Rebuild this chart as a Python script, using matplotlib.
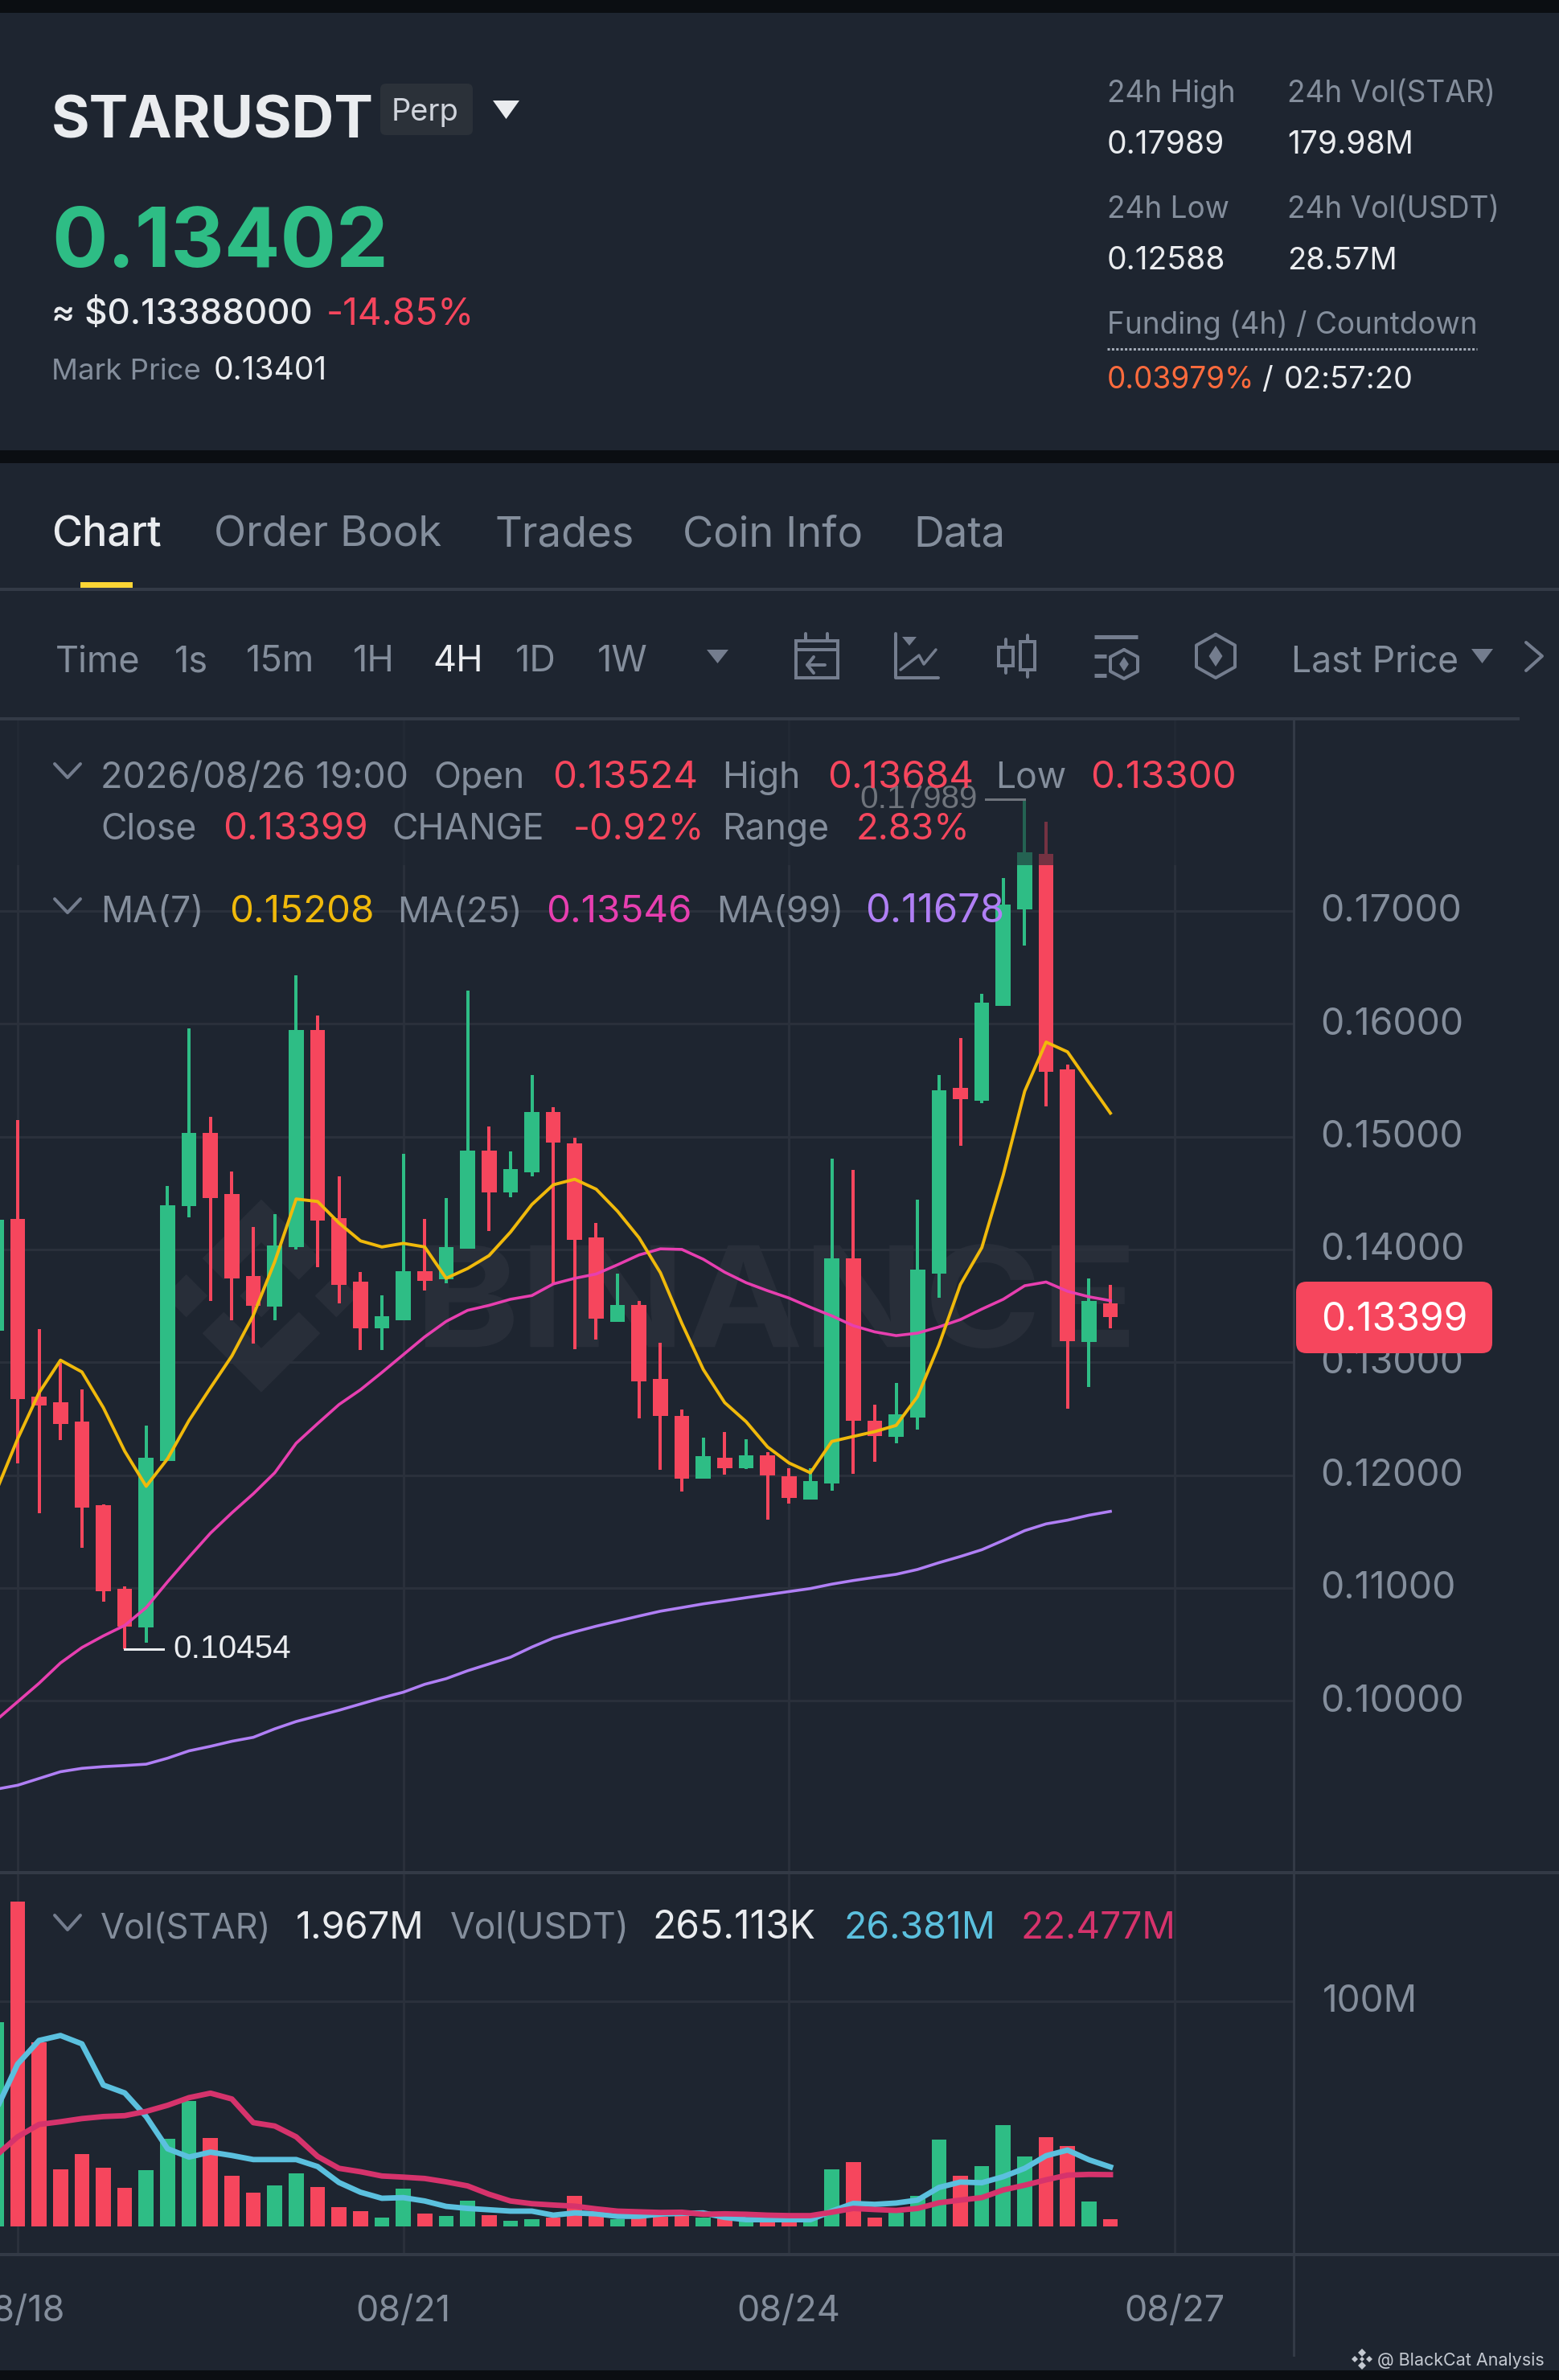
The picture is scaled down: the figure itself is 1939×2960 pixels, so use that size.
import numpy as np
import matplotlib
matplotlib.use("Agg")
import matplotlib.pyplot as plt
from matplotlib.patches import FancyBboxPatch, PathPatch, Polygon, Rectangle
from matplotlib.textpath import TextPath
from matplotlib.font_manager import FontProperties
from matplotlib.transforms import Affine2D, ScaledTranslation

plt.rcParams['font.family'] = ['Inter', 'DejaVu Sans']

# candles, first one is cut by the left edge
opens = [.1328, .14267, .12696, .12642, .12473, .11731, .10989, .10651, .12124, .14382, .15031,
         .14491, .13765, .13493, .14022, .15942, .14278, .13716, .13302, .13373, .13804,
         .13733, .14005, .14878, .14507, .14687, .15216, .14943, .14104, .13356, .13504,
         .12849, .12522, .11971, .12151, .12064, .12178, .11987, .11785, .11922, .13924,
         .12484, .12336, .12511, .13782, .15429, .1532, .1616, .17016, .17507, .15598,
         .13182, .13524]
closes = [.1426, .12674, .12614, .12451, .11709, .10973, .10656, .12156, .14393, .15036, .14458,
          .13744, .13498, .14038, .15942, .14256, .13689, .13302, .13405, .13804, .13722,
          .14022, .14878, .14507, .14715, .15216, .14944, .14082, .13389, .13509, .12827,
          .12527, .11971, .12167, .12064, .12178, .11998, .11796, .11944, .13924, .12478,
          .12347, .12538, .1382, .15407, .15331, .16187, .17055, .17518, .15576, .13187,
          .13542, .13399]
highs = [.1450, .15145, .13291, .12991, .12762, .11742, .11016, .1244, .14562, .15958, .15173,
         .14693, .14196, .14316, .16427, .16073, .14649, .13798, .13591, .14851, .14273,
         .14458, .16291, .15091, .14867, .15549, .1526, .14987, .14234, .13787, .13542,
         .13176, .12582, .12331, .1238, .12315, .12205, .12058, .12064, .14807, .14704,
         .12625, .12816, .14442, .15549, .15876, .16269, .1729, .17989, .1779, .15636,
         .13744, .13684]
lows = [.1300, .12102, .11665, .12309, .11354, .10874, .10454, .10515, .12124, .14284, .13542,
        .13373, .13165, .13373, .14, .13842, .13525, .13105, .13111, .13373, .13635,
        .137, .14005, .14164, .14464, .14649, .137, .13116, .13198, .13356, .12505,
        .12047, .11856, .11971, .12004, .12053, .11605, .11747, .11785, .11862, .12009,
        .12118, .12282, .12402, .13575, .14922, .15298, .1616, .16695, .15271, .12588,
        .12784, .133]
ma7 = [.11856, .1232, .12729, .13018, .12914, .12598, .12211, .119, .12145, .12484, .12773,
       .13056, .13416, .13891, .14447, .14425, .14234, .14076, .14022, .14054, .14022,
       .13744, .13831, .13945, .14153, .14398, .14573, .14622, .14534, .14338, .14104,
       .13793, .13345, .12936, .12642, .12473, .12249, .12107, .1202, .12298, .12342,
       .12385, .1244, .12696, .13154, .13689, .14016, .1466, .15402, .15838, .15751,
       .15478, .15208]
ma25 = [.09827, .0999, .10154, .10334, .10471, .10574, .10667, .10825, .11054, .11273, .11485,
        .11665, .11834, .1202, .12282, .12456, .12625, .12756, .12909, .13067, .13225,
        .13362, .1346, .13504, .13558, .13591, .13694, .13744, .13782, .13864, .13951,
        .14005, .14, .13913, .13798, .13705, .13634, .13569, .13487, .13411, .13324,
        .13269, .13236, .13258, .13313, .13378, .13471, .13558, .13678, .13711, .13629,
        .1358, .13546]
ma99 = [.09215, .0925, .0931, .0937, .094, .09415, .09425, .09437, .0949, .09555, .09595,
        .0964, .09675, .0975, .09815, .09865, .09915, .0997, .10025, .10075, .10145,
        .10195, .10265, .10325, .10385, .10475, .10555, .1061, .1066, .10705, .1075,
        .10793, .10825, .10858, .10885, .10913, .1094, .10967, .10994, .11033, .11065,
        .11093, .1112, .11163, .11223, .11278, .11338, .1142, .11507, .11567, .116,
        .11644, .11678]
volumes = [90.8, 144.4, 81.8, 25.2, 32.0, 26.1, 17.1, 25.1, 39.0, 55.6, 39.3,
           22.4, 15.0, 18.3, 23.7, 17.6, 8.7, 6.9, 3.8, 16.8, 5.7,
           4.7, 11.6, 5.0, 2.6, 3.3, 3.8, 13.5, 5.3, 3.3, 4.5,
           4.2, 5.0, 4.0, 3.8, 3.0, 3.8, 3.8, 3.8, 25.2, 28.4,
           4.0, 6.0, 13.4, 38.6, 22.5, 26.7, 45.0, 31.1, 39.6, 35.7,
           11.1, 3.3]
vol_ma_fast = [51.8, 72.1, 82.6, 84.8, 81.1, 62.8, 59.3, 48.8, 34.5, 30.8, 33.0,
               31.5, 29.7, 29.7, 29.7, 26.6, 19.5, 15.2, 12.5, 12.8, 11.3,
               8.9, 8.0, 7.4, 6.8, 6.8, 5.0, 6.0, 5.6, 4.5, 4.5,
               5.5, 5.8, 6.0, 4.0, 3.0, 3.0, 3.0, 3.0, 6.8, 10.2,
               9.8, 10.4, 11.7, 17.3, 19.7, 19.4, 22.1, 25.8, 31.4, 33.9,
               29.6, 26.4]
vol_ma_slow = [31.5, 39.8, 45.3, 46.5, 47.9, 48.8, 49.2, 51.1, 53.8, 57.2, 59.2,
               56.6, 46.1, 44.6, 39.8, 31.1, 25.8, 24.3, 22.4, 21.9, 21.3,
               19.8, 18.0, 14.3, 11.3, 10.1, 9.5, 9.0, 7.8, 6.8, 6.5,
               6.2, 6.3, 5.4, 5.6, 5.4, 5.0, 4.8, 4.8, 6.3, 8.0,
               7.5, 7.1, 8.0, 10.5, 11.7, 12.8, 16.2, 18.3, 20.7, 22.8,
               23.1, 23.0]
idx = np.arange(-1, 52)
price_ticks = [.10, .11, .12, .13, .14, .15, .16, .17]
date_idx = [0, 18, 36, 54]
date_labels = ['08/18', '08/21', '08/24', '08/27']

BG = '#1e2530'
DARK = '#0b0e12'
GREEN = '#2ebd85'
RED = '#f6465d'
GRAY = '#848e9c'
WHITE = '#eaecef'
GRID = '#2a303b'
LINE = '#333a46'
ICON = '#747d8e'
YELLOW = '#f0b90b'
PINK = '#e73fb0'
PURPLE = '#b07ff5'
BLUE = '#5bc0de'
CRIMSON = '#d6336c'

W, H = 1940, 2960
fig = plt.figure(figsize=(W / 100, H / 100), dpi=100, facecolor=DARK)


def pt(px):
    return px * 0.72


def px_axes(y0, y1, x0=0, x1=W):
    return [x0 / W, 1 - y1 / H, (x1 - x0) / W, (y1 - y0) / H]


# background layer in pixels
bg = fig.add_axes([0, 0, 1, 1], zorder=0)
bg.set_xlim(0, W)
bg.set_ylim(H, 0)
bg.axis('off')
bg.add_patch(Rectangle((0, 16), W, 544, color=BG, lw=0))
bg.add_patch(Rectangle((0, 576), W, 2372, color=BG, lw=0))

# watermark, stretched to the box it has in the reference
wm = '#282e39'
for poly in ([(375, 35), (595, 255), (515, 335), (375, 195), (235, 335), (155, 255)],
             [(375, 755), (595, 535), (515, 455), (375, 590), (235, 455), (155, 535)],
             [(375, 315), (455, 395), (375, 475), (295, 395)],
             [(95, 315), (175, 395), (95, 475), (15, 395)],
             [(655, 315), (735, 395), (655, 475), (575, 395)]):
    bg.add_patch(Polygon([(200 + x / 3, 1480 + y / 3) for x, y in poly], color=wm, lw=0))
wm_path = TextPath((0, 0), 'BINANCE', size=100, prop=FontProperties(family='Inter', weight='bold'))
box = wm_path.get_extents()
to_px = (Affine2D().translate(-box.x0, -box.y0)
         .scale((1404 - 529) / box.width, -(1677 - 1547) / box.height).translate(529, 1677))
bg.add_patch(PathPatch(wm_path, transform=to_px + bg.transData, color=wm, lw=0))

xlim = (-21.9 / 26.65, (1609 - 21.9) / 26.65)
tick_up = ScaledTranslation(0, 3.5 / 100, fig.dpi_scale_trans)

# price panel
ax = fig.add_axes(px_axes(895, 2329, 0, 1609), zorder=1, facecolor='none')
ax.set_xlim(*xlim)
ax.set_ylim(.17 - (2329 - 1133) / 14030, .17 + (1133 - 895) / 14030)
for s in ax.spines.values():
    s.set_visible(False)
ax.set_xticks(date_idx)
ax.tick_params(axis='x', length=0, labelbottom=False)
ax.yaxis.tick_right()
ax.set_yticks(price_ticks)
ax.set_yticklabels([f'{p:.5f}' for p in price_ticks])
ax.tick_params(axis='y', length=0, pad=pt(33), labelsize=pt(46.5), labelcolor=GRAY)
for lab in ax.get_yticklabels():
    lab.set_transform(lab.get_transform() + tick_up)
ax.grid(True, color=GRID, lw=pt(3))
ax.set_axisbelow(True)

colors = [GREEN if c >= o else RED for o, c in zip(opens, closes)]
ax.vlines(idx, lows, highs, colors=colors, lw=pt(4), zorder=2)
ax.bar(idx, np.abs(np.array(closes) - np.array(opens)), bottom=np.minimum(opens, closes),
       width=0.7, color=colors, lw=0, zorder=2.1)
ax.plot(idx, ma99, color=PURPLE, lw=pt(3.6), zorder=3)
ax.plot(idx, ma25, color=PINK, lw=pt(3.6), zorder=3)
ax.plot(idx, ma7, color=YELLOW, lw=pt(3.9), zorder=3)

# highest / lowest markers
hi_i = int(np.argmax(highs))
lo_i = int(np.argmin(lows))
ax.plot([idx[hi_i] - 1.8, idx[hi_i]], [highs[hi_i]] * 2, color=WHITE, lw=pt(3), zorder=4)
ax.text(idx[hi_i] - 2.2, highs[hi_i], f'{highs[hi_i]:.5f}', color=WHITE, ha='right', va='center',
        fontsize=pt(40.5), family='Liberation Sans', zorder=4)
ax.plot([idx[lo_i], idx[lo_i] + 1.8], [lows[lo_i]] * 2, color=WHITE, lw=pt(3), zorder=4)
ax.text(idx[lo_i] + 2.25, lows[lo_i], f'{lows[lo_i]:.5f}', color=WHITE, ha='left', va='center',
        fontsize=pt(40.5), family='Liberation Sans', zorder=4)

# volume panel
vax = fig.add_axes(px_axes(2329, 2804, 0, 1609), zorder=1, facecolor='none')
vax.set_xlim(*xlim)
vax.set_ylim((2769 - 2804) / 2.8, (2769 - 2329) / 2.8)
for s in vax.spines.values():
    s.set_visible(False)
vax.yaxis.tick_right()
vax.set_yticks([100])
vax.set_yticklabels(['100M'])
vax.tick_params(axis='y', length=0, pad=pt(36), labelsize=pt(46), labelcolor=GRAY)
for lab in vax.get_yticklabels():
    lab.set_transform(lab.get_transform() + tick_up)
vax.set_xticks(date_idx)
vax.set_xticklabels(date_labels)
vax.tick_params(axis='x', length=0, pad=pt(50), labelsize=pt(45), labelcolor=GRAY)
vax.grid(True, color=GRID, lw=pt(3))
vax.set_axisbelow(True)
vax.bar(idx, volumes, width=0.7, color=colors, lw=0, zorder=2)
vax.plot(idx, vol_ma_fast, color=BLUE, lw=pt(6.8), zorder=3)
vax.plot(idx, vol_ma_slow, color=CRIMSON, lw=pt(6.8), zorder=3)

# top layer in pixels: header, tabs, toolbar, legends
top = fig.add_axes([0, 0, 1, 1], zorder=3, facecolor='none')
top.set_xlim(0, W)
top.set_ylim(H, 0)
top.axis('off')


def txt(x, y, s, color=GRAY, size=46, **kw):
    top.text(x, y, s, color=color, fontsize=pt(size), va='baseline', **kw)


def hline(x0, x1, y, color=LINE, w=4):
    top.plot([x0, x1], [y, y], color=color, lw=pt(w), solid_capstyle='butt')


def stroke(pts, color=ICON, w=4):
    xs, ys = zip(*pts)
    top.plot(xs, ys, color=color, lw=pt(w), solid_capstyle='round', solid_joinstyle='round')


def tri(x0, x1, y0, y1, color):
    top.add_patch(Polygon([(x0, y0), (x1, y0), ((x0 + x1) / 2, y1)], color=color, lw=0))


# dims what is under the first legend rows
top.add_patch(Rectangle((0, 896), 1606, 180, color=BG, alpha=0.6, lw=0))

hline(0, W, 2329)
hline(0, W, 2804)
hline(0, 1890, 894)
top.plot([1609, 1609], [896, 2929], color=LINE, lw=pt(3))

# header
txt(64, 171, 'STARUSDT', WHITE, 73, fontweight='bold')
top.add_patch(FancyBboxPatch((480, 111), 101, 50, boxstyle='round,pad=7,rounding_size=7', color='#2b3139', lw=0))
txt(529, 150, 'Perp', '#d0d4dc', 38, ha='center')
tri(613, 646, 125, 148, WHITE)
txt(64, 332, '0.13402', GREEN, 103, fontweight='bold')
txt(64, 403, '≈ $0.13388000', WHITE, 44, fontweight='medium')
txt(406, 403, '-14.85%', RED, 46)
txt(64, 472, 'Mark Price', GRAY, 36.5)
txt(266, 472, '0.13401', WHITE, 39)

txt(1377, 127, '24h High', GRAY, 37)
txt(1601, 127, '24h Vol(STAR)', GRAY, 37)
txt(1377, 191, '0.17989', WHITE, 39)
txt(1601, 191, '179.98M', WHITE, 39)
txt(1377, 271, '24h Low', GRAY, 37)
txt(1601, 271, '24h Vol(USDT)', GRAY, 37)
txt(1377, 335, '0.12588', WHITE, 39)
txt(1601, 335, '28.57M', WHITE, 38)
txt(1377, 415, 'Funding (4h) / Countdown', GRAY, 37)
top.plot([1377, 1837], [434, 434], color='#a4acb8', lw=pt(3), ls=(0, (1, 0.8)))
txt(1377, 483, '0.03979%', '#ff6b3d', 37)
txt(1569, 483, '/', WHITE, 38)
txt(1597, 483, '02:57:20', WHITE, 38)

# tabs
txt(64, 679, 'Chart', WHITE, 52, fontweight='medium')
for x, s in [(266, 'Order Book'), (616, 'Trades'), (849, 'Coin Info'), (1136, 'Data')]:
    txt(x, 679, s, GRAY, 52.5)
hline(0, W, 733)
top.add_patch(Rectangle((100, 724), 65, 11, color='#fcd535', lw=0))

# timeframes
for x, s in [(69, 'Time'), (217, '1s'), (306, '15m'), (439, '1H'), (641, '1D'), (743, '1W')]:
    txt(x, 835, s, GRAY, 45)
txt(538, 835, '4H', WHITE, 45)
tri(879, 906, 808, 825, ICON)

# toolbar icons
top.add_patch(Rectangle((990, 797), 52, 46, fill=False, ec=ICON, lw=pt(4)))
hline(990, 1042, 808, ICON)
stroke([(1002, 788), (1002, 797)])
stroke([(1029, 788), (1029, 797)])
stroke([(1004, 827), (1026, 827)])
stroke([(1012, 817), (1004, 827), (1012, 837)])

stroke([(1114, 788), (1114, 843), (1167, 843)])
tri(1122, 1140, 792, 803, ICON)
stroke([(1120, 833), (1143, 815), (1149, 826), (1164, 808)], w=3.5)

top.add_patch(Rectangle((1242, 805), 18, 23, fill=False, ec=ICON, lw=pt(4)))
stroke([(1251, 795), (1251, 805)])
stroke([(1251, 828), (1251, 837)])
top.add_patch(Rectangle((1269, 798), 18, 35, fill=False, ec=ICON, lw=pt(4)))
stroke([(1278, 790), (1278, 798)])
stroke([(1278, 833), (1278, 842)])

hline(1361, 1415, 792, ICON, 5)
hline(1361, 1376, 816, ICON, 5)
hline(1361, 1376, 840, ICON, 5)


def hexagon(cx, cy, w, h, d):
    pts = [(cx, cy - h), (cx + w, cy - h * .5), (cx + w, cy + h * .5), (cx, cy + h),
           (cx - w, cy + h * .5), (cx - w, cy - h * .5), (cx, cy - h)]
    stroke(pts)
    top.add_patch(Polygon([(cx, cy - d), (cx + d * .65, cy), (cx, cy + d), (cx - d * .65, cy)], color=ICON, lw=0))


hexagon(1398, 826, 17, 18, 9)
hexagon(1512, 816, 24, 27, 13)

txt(1606, 836, 'Last Price', GRAY, 44.5)
tri(1830, 1857, 807, 825, ICON)
stroke([(1898, 799), (1918, 816), (1898, 834)])

# legend rows, labels a little smaller than the numbers
LAB, NUM = 44.5, 47.5
for y in (950, 1118):
    stroke([(68, y), (84, y + 17), (100, y)], ICON, 4)
row = [(125, '2026/08/26 19:00', GRAY, 45), (539, 'Open', GRAY, LAB), (687, '0.13524', RED, NUM),
       (898, 'High', GRAY, LAB), (1029, '0.13684', RED, NUM), (1238, 'Low', GRAY, LAB),
       (1356, '0.13300', RED, NUM)]
for x, s, c, z in row:
    txt(x, 980, s, c, z)
row = [(125, 'Close', GRAY, LAB), (277, '0.13399', RED, NUM), (487, 'CHANGE', GRAY, LAB),
       (713, '-0.92%', RED, 45.5), (898, 'Range', GRAY, LAB), (1065, '2.83%', RED, 45.5)]
for x, s, c, z in row:
    txt(x, 1044, s, c, z)
row = [(125, 'MA(7)', GRAY, LAB), (285, '0.15208', YELLOW, NUM), (494, 'MA(25)', GRAY, 44), (679, '0.13546', PINK, NUM),
       (891, 'MA(99)', GRAY, LAB), (1076, '0.11678', PURPLE, 49)]
for x, s, c, z in row:
    txt(x, 1147, s, c, z)
stroke([(68, 2382), (84, 2400), (100, 2382)], ICON, 4)
row = [(125, 'Vol(STAR)', GRAY, 43.5), (368, '1.967M', WHITE, 47), (560, 'Vol(USDT)', GRAY, 44.5),
       (811, '265.113K', WHITE, 48), (1050, '26.381M', BLUE, 46.5), (1270, '22.477M', CRIMSON, 46)]
for x, s, c, z in row:
    txt(x, 2411, s, c, z)

# last price tag
top.add_patch(FancyBboxPatch((1625, 1607), 218, 63, boxstyle='round,pad=13,rounding_size=13', color=RED, lw=0))
txt(1734, 1655, '0.13399', 'white', 48, ha='center')

# credit
for cx, cy, d in [(1694, 2926, 5), (1694, 2942, 5), (1685, 2934, 4), (1703, 2934, 4), (1694, 2934, 3)]:
    top.add_patch(Polygon([(cx, cy - d), (cx + d, cy), (cx, cy + d), (cx - d, cy)], color='#c4c9d1', lw=0))
txt(1713, 2942, '@ BlackCat Analysis', '#c4c9d1', 21.5)

fig.savefig('out.png', dpi=100, facecolor=DARK)
